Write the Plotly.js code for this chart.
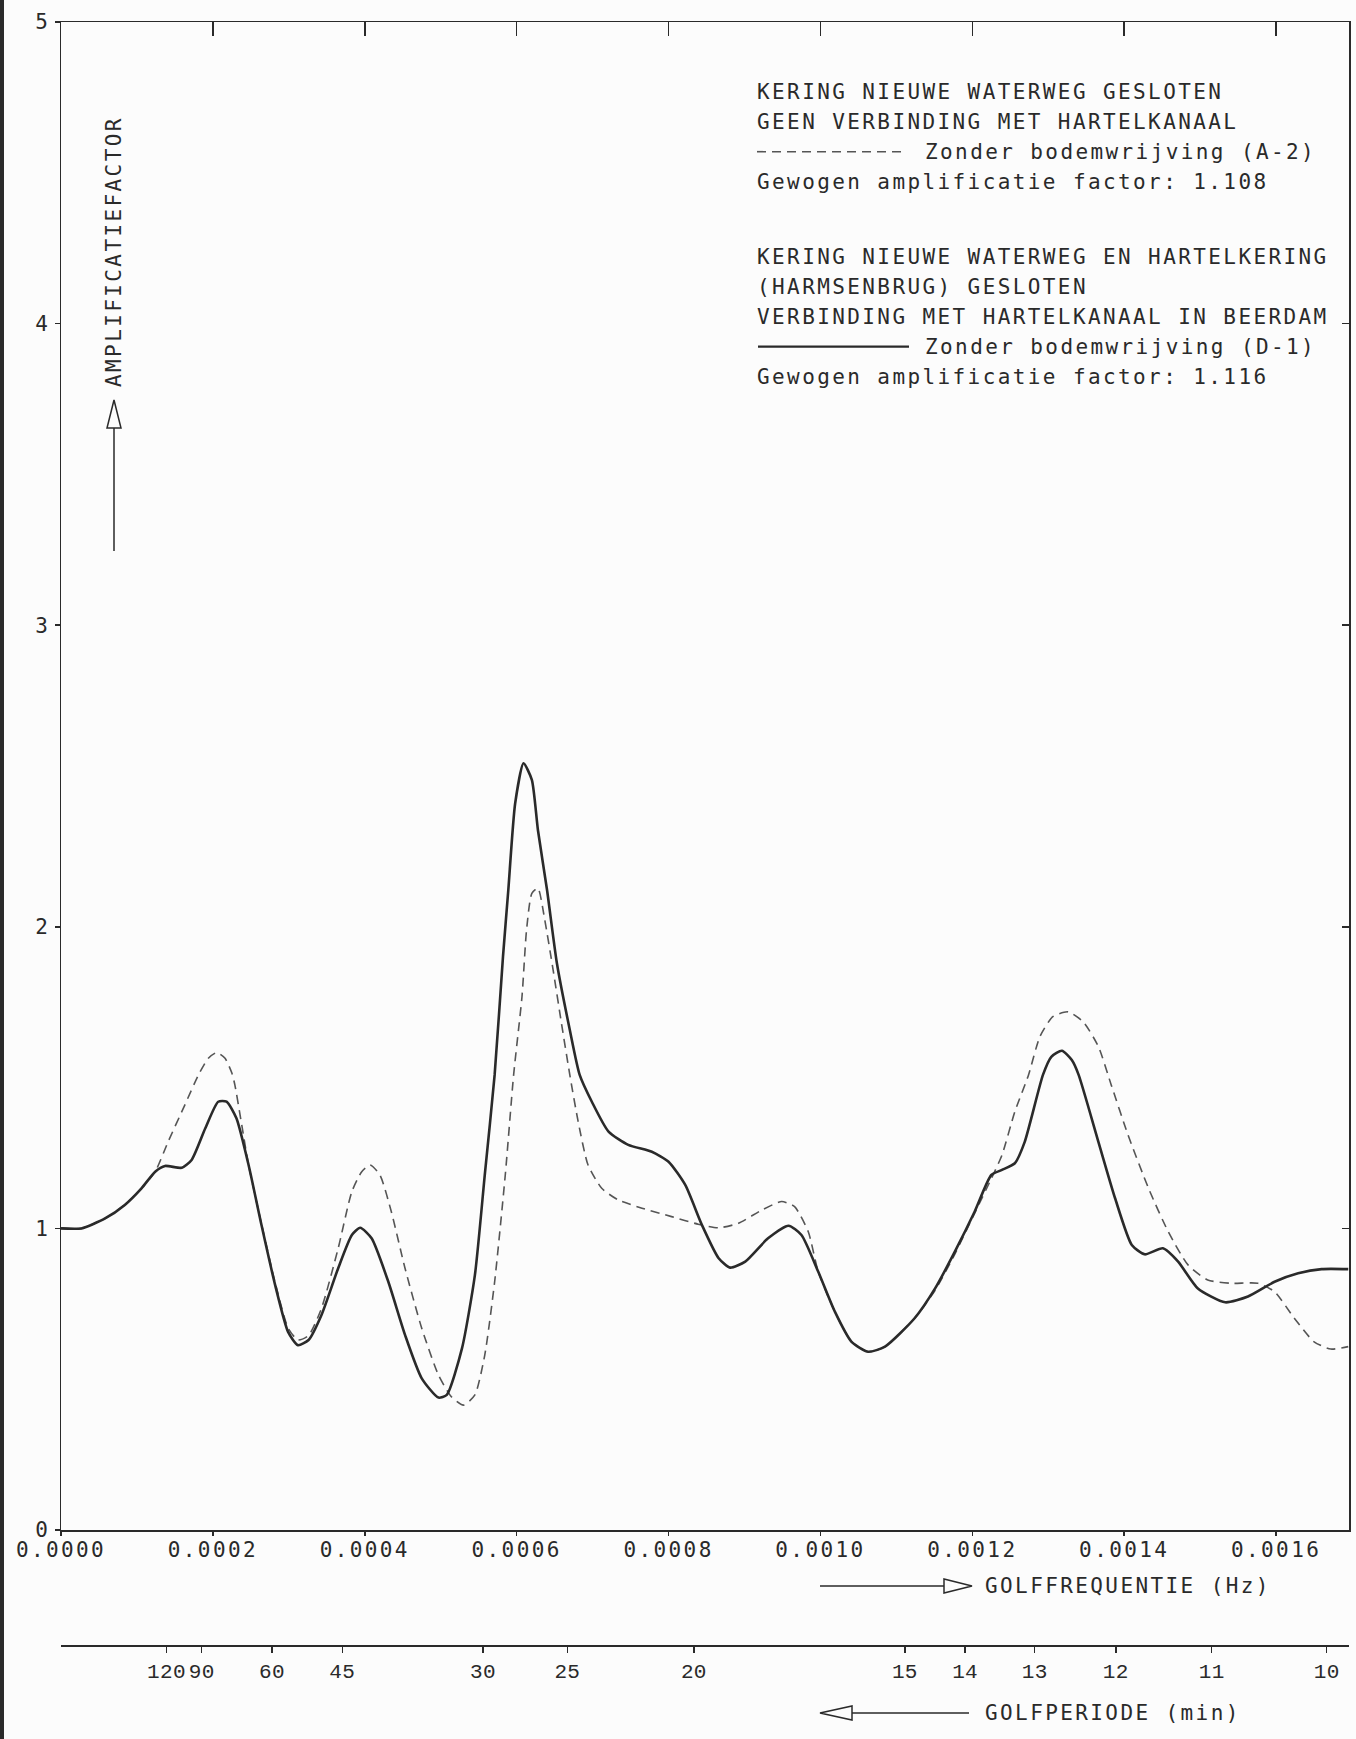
<!DOCTYPE html>
<html>
<head>
<meta charset="utf-8">
<script src="https://cdn.plot.ly/plotly-3.0.1.min.js"></script>
<style>
  html, body { margin: 0; padding: 0; background: #fcfcfc; }
  text { letter-spacing: 2.4px; }
  text[style*="Liberation"] { letter-spacing: 0.3px; }
</style>
</head>
<body>
<div id="chart" style="width:1356px;height:1739px;"></div>
<script>
// ---- DATA ----
// Curve D-1 (solid): Kering Nieuwe Waterweg en Hartelkering gesloten
const freqD1 = [0, 0.000027, 0.000058, 0.000084, 0.000106, 0.000124, 0.000137, 0.000159, 0.000172, 0.000190,
  0.000207, 0.000218, 0.000231, 0.000247, 0.000264, 0.000282, 0.000299, 0.000312, 0.000326, 0.000343,
  0.000365, 0.000383, 0.000394, 0.000409, 0.000431, 0.000453, 0.000475, 0.000497, 0.000508, 0.000528,
  0.000545, 0.000558, 0.000571, 0.000582, 0.000589, 0.000598, 0.000609, 0.000620, 0.000628, 0.000640,
  0.000653, 0.000670, 0.000683, 0.000699, 0.000721, 0.000747, 0.000778, 0.000800, 0.000822, 0.000844,
  0.000866, 0.000881, 0.000901, 0.000931, 0.000958, 0.000975, 0.000997, 0.001019, 0.001041, 0.001063,
  0.001085, 0.001124, 0.001151, 0.001177, 0.001203, 0.001225, 0.001239, 0.001256, 0.001269, 0.001293,
  0.001304, 0.001318, 0.001331, 0.001340, 0.001366, 0.001388, 0.001410, 0.001427, 0.001451, 0.001471,
  0.001497, 0.001533, 0.001563, 0.001598, 0.001629, 0.001660, 0.001695];
const ampD1 = [1.000, 1.000, 1.033, 1.078, 1.133, 1.188, 1.207, 1.201, 1.227, 1.332,
  1.420, 1.420, 1.365, 1.210, 1.011, 0.812, 0.657, 0.613, 0.630, 0.713,
  0.868, 0.978, 1.002, 0.967, 0.823, 0.647, 0.503, 0.439, 0.448, 0.602,
  0.845, 1.177, 1.509, 1.901, 2.122, 2.409, 2.542, 2.487, 2.321, 2.122,
  1.879, 1.658, 1.509, 1.420, 1.321, 1.277, 1.254, 1.221, 1.144, 1.011,
  0.901, 0.870, 0.890, 0.967, 1.009, 0.978, 0.857, 0.724, 0.624, 0.591,
  0.608, 0.702, 0.801, 0.923, 1.055, 1.177, 1.194, 1.216, 1.287, 1.509,
  1.569, 1.589, 1.558, 1.509, 1.287, 1.100, 0.945, 0.914, 0.934, 0.890,
  0.801, 0.755, 0.774, 0.823, 0.851, 0.865, 0.865];

// Curve A-2 (dashed): Kering Nieuwe Waterweg gesloten
const freqA2 = [0, 0.000027, 0.000058, 0.000084, 0.000106, 0.000124, 0.000141, 0.000163, 0.000181, 0.000194,
  0.000205, 0.000216, 0.000225, 0.000229, 0.000238, 0.000247, 0.000264, 0.000282, 0.000299, 0.000312,
  0.000326, 0.000343, 0.000365, 0.000383, 0.000396, 0.000407, 0.000420, 0.000435, 0.000453, 0.000475,
  0.000497, 0.000514, 0.000530, 0.000545, 0.000558, 0.000571, 0.000585, 0.000596, 0.000607, 0.000613,
  0.000620, 0.000628, 0.000637, 0.000648, 0.000659, 0.000670, 0.000681, 0.000694, 0.000712, 0.000734,
  0.000765, 0.000804, 0.000839, 0.000866, 0.000892, 0.000923, 0.000949, 0.000966, 0.000984, 0.000997,
  0.001019, 0.001041, 0.001063, 0.001085, 0.001124, 0.001151, 0.001177, 0.001203, 0.001225, 0.001239,
  0.001256, 0.001274, 0.001289, 0.001306, 0.001326, 0.001346, 0.001366, 0.001383, 0.001405, 0.001432,
  0.001458, 0.001484, 0.001510, 0.001541, 0.001576, 0.001598, 0.001624, 0.001650, 0.001672, 0.001695];
const ampA2 = [1.000, 1.000, 1.033, 1.078, 1.133, 1.188, 1.287, 1.409, 1.509, 1.564,
  1.583, 1.564, 1.515, 1.475, 1.343, 1.210, 1.015, 0.820, 0.670, 0.630,
  0.645, 0.735, 0.934, 1.122, 1.188, 1.210, 1.177, 1.055, 0.868, 0.669,
  0.514, 0.442, 0.414, 0.448, 0.580, 0.823, 1.177, 1.509, 1.768, 1.989,
  2.111, 2.128, 2.023, 1.857, 1.680, 1.509, 1.354, 1.210, 1.133, 1.094,
  1.067, 1.039, 1.014, 1.002, 1.017, 1.061, 1.089, 1.072, 0.989, 0.857,
  0.724, 0.624, 0.591, 0.608, 0.702, 0.795, 0.915, 1.050, 1.165, 1.243,
  1.387, 1.509, 1.636, 1.702, 1.718, 1.685, 1.603, 1.475, 1.310, 1.133,
  0.989, 0.879, 0.829, 0.818, 0.818, 0.790, 0.702, 0.624, 0.600, 0.608];

// Tick labels
const freqTicks = [0, 0.0002, 0.0004, 0.0006, 0.0008, 0.0010, 0.0012, 0.0014, 0.0016];
const freqTickLabels = ['0.0000', '0.0002', '0.0004', '0.0006', '0.0008', '0.0010', '0.0012', '0.0014', '0.0016'];
const periodMinutes = [120, 90, 60, 45, 30, 25, 20, 15, 14, 13, 12, 11, 10];
const periodTickLabels = periodMinutes.map(String);
const ampTicks = [0, 1, 2, 3, 4, 5];
const ampTickLabels = ['0', '1', '2', '3', '4', '5'];

const legendLines = [
  'KERING NIEUWE WATERWEG GESLOTEN',
  'GEEN VERBINDING MET HARTELKANAAL',
  'Zonder bodemwrijving (A-2)',
  'Gewogen amplificatie factor: 1.108',
  'KERING NIEUWE WATERWEG EN HARTELKERING',
  '(HARMSENBRUG) GESLOTEN',
  'VERBINDING MET HARTELKANAAL IN BEERDAM',
  'Zonder bodemwrijving (D-1)',
  'Gewogen amplificatie factor: 1.116'
];
const yTitle = 'AMPLIFICATIEFACTOR';
const xTitle = 'GOLFFREQUENTIE (Hz)';
const x2Title = 'GOLFPERIODE (min)';

// ---- LAYOUT HELPERS (page pixel -> paper fraction) ----
const W = 1356, H = 1739;
const mL = 61, mR = 7, mT = 22, mB = 60;
const plotW = W - mL - mR, plotH = H - mT - mB;
const xp = X => (X - mL) / plotW;
const yp = Y => (H - mB - Y) / plotH;

const FONT = 'DejaVu Sans Mono, monospace';
const FONT2 = 'Liberation Mono, monospace';
const FS = 21;
const INK = '#2a2a2a';
const xRange = [0, 0.001696];
const periodTickPos = periodMinutes.map(T => 1 / (60 * T));

const traces = [
  { x: freqA2, y: ampA2, type: 'scatter', mode: 'lines', name: 'Zonder bodemwrijving (A-2)',
    line: { color: '#555', width: 1.6, dash: '9px,6px', shape: 'spline', smoothing: 0.6 },
    xaxis: 'x', yaxis: 'y', hoverinfo: 'x+y' },
  { x: freqD1, y: ampD1, type: 'scatter', mode: 'lines', name: 'Zonder bodemwrijving (D-1)',
    line: { color: '#2a2a2a', width: 2.6, shape: 'spline', smoothing: 0.6 },
    xaxis: 'x', yaxis: 'y', hoverinfo: 'x+y' },
  // empty helper traces so that the extra axes are drawn
  { x: [], y: [], type: 'scatter', mode: 'lines', xaxis: 'x2', yaxis: 'y', showlegend: false, hoverinfo: 'skip' },
  { x: [], y: [], type: 'scatter', mode: 'lines', xaxis: 'x3', yaxis: 'y', showlegend: false, hoverinfo: 'skip' },
  { x: [], y: [], type: 'scatter', mode: 'lines', xaxis: 'x', yaxis: 'y2', showlegend: false, hoverinfo: 'skip' }
];

const yDomBottom = yp(1530);

const annotations = [];
const legendY = [91.7, 121.7, 151.7, 181.7, 256.7, 286.7, 316.7, 346.7, 376.7];
const legendX = [756, 756, 924, 756, 756, 756, 756, 924, 756];
legendLines.forEach((t, i) => {
  annotations.push({ text: t, xref: 'paper', yref: 'paper', x: xp(legendX[i]), y: yp(legendY[i]),
    xanchor: 'left', yanchor: 'middle', showarrow: false, borderpad: 0,
    font: { family: FONT, size: FS, color: INK } });
});
annotations.push({ text: yTitle, xref: 'paper', yref: 'paper', x: xp(114), y: yp(252),
  xanchor: 'center', yanchor: 'middle', textangle: -90, showarrow: false, borderpad: 0,
  font: { family: FONT, size: FS, color: INK } });
annotations.push({ text: xTitle, xref: 'paper', yref: 'paper', x: xp(984), y: yp(1586),
  xanchor: 'left', yanchor: 'middle', showarrow: false, borderpad: 0,
  font: { family: FONT, size: FS, color: INK } });
annotations.push({ text: x2Title, xref: 'paper', yref: 'paper', x: xp(984), y: yp(1713),
  xanchor: 'left', yanchor: 'middle', showarrow: false, borderpad: 0,
  font: { family: FONT, size: FS, color: INK } });

const lineStyle = { color: INK, width: 1.5 };
const P = (X, Y) => xp(X) + ',' + yp(Y);
const shapes = [
  // scanned page edge on the left
  { type: 'rect', xref: 'paper', yref: 'paper', x0: xp(0), x1: xp(4), y0: yp(0), y1: yp(H),
    fillcolor: '#2a2a2a', line: { width: 0 }, layer: 'above' },
  // y title arrow
  { type: 'line', xref: 'paper', yref: 'paper', x0: xp(114), x1: xp(114), y0: yp(551), y1: yp(428), line: lineStyle },
  { type: 'path', xref: 'paper', yref: 'paper', path: 'M' + P(107, 428) + ' L' + P(121, 428) + ' L' + P(114, 400) + ' Z', line: lineStyle },
  // frequency arrow
  { type: 'line', xref: 'paper', yref: 'paper', x0: xp(820), x1: xp(944), y0: yp(1586), y1: yp(1586), line: lineStyle },
  { type: 'path', xref: 'paper', yref: 'paper', path: 'M' + P(944, 1579) + ' L' + P(944, 1593) + ' L' + P(972, 1586) + ' Z', line: lineStyle },
  // period arrow
  { type: 'line', xref: 'paper', yref: 'paper', x0: xp(852), x1: xp(969), y0: yp(1713), y1: yp(1713), line: lineStyle },
  { type: 'path', xref: 'paper', yref: 'paper', path: 'M' + P(852, 1706) + ' L' + P(852, 1720) + ' L' + P(820, 1713) + ' Z', line: lineStyle },
  // legend line samples
  { type: 'line', xref: 'paper', yref: 'paper', x0: xp(757), x1: xp(906), y0: yp(151.7), y1: yp(151.7),
    line: { color: '#555', width: 1.6, dash: '9px,6px' } },
  { type: 'line', xref: 'paper', yref: 'paper', x0: xp(758), x1: xp(909), y0: yp(346.7), y1: yp(346.7),
    line: { color: '#2a2a2a', width: 2.2 } }
];

const layout = {
  width: W, height: H,
  margin: { l: mL, r: mR, t: mT, b: mB, pad: 0 },
  paper_bgcolor: '#fcfcfc', plot_bgcolor: '#fcfcfc',
  showlegend: false,
  font: { family: FONT, color: INK, size: FS },
  xaxis: {
    range: xRange, anchor: 'y', side: 'bottom',
    tickmode: 'array', tickvals: freqTicks, ticktext: freqTickLabels, tickangle: 0,
    ticks: 'outside', ticklen: 4, tickwidth: 1.5, tickcolor: INK, ticklabelstandoff: -4,
    showline: true, linecolor: INK, linewidth: 1.5,
    showgrid: false, zeroline: false,
    tickfont: { family: FONT, size: FS, color: INK }
  },
  xaxis2: {
    range: xRange, overlaying: 'x', anchor: 'free', position: yp(1645), side: 'bottom',
    tickmode: 'array', tickvals: periodTickPos, ticktext: periodTickLabels, tickangle: 0,
    ticks: 'outside', ticklen: 6, tickwidth: 1.5, tickcolor: INK, ticklabelstandoff: 0,
    showline: true, linecolor: INK, linewidth: 1.5,
    showgrid: false, zeroline: false,
    tickfont: { family: FONT2, size: 21, color: INK }
  },
  xaxis3: {
    range: xRange, overlaying: 'x', anchor: 'y', side: 'top',
    tickmode: 'array', tickvals: freqTicks.slice(1),
    ticks: 'inside', ticklen: 14, tickwidth: 1.5, tickcolor: INK, showticklabels: false,
    showline: true, linecolor: INK, linewidth: 1.5,
    showgrid: false, zeroline: false
  },
  yaxis: {
    range: [0, 5], domain: [yDomBottom, 1], anchor: 'x',
    tickmode: 'array', tickvals: ampTicks, ticktext: ampTickLabels,
    ticks: 'outside', ticklen: 5, tickwidth: 1.5, tickcolor: INK, ticklabelstandoff: 0,
    showline: true, linecolor: INK, linewidth: 1.5,
    showgrid: false, zeroline: false,
    tickfont: { family: FONT, size: FS, color: INK }
  },
  yaxis2: {
    range: [0, 5], overlaying: 'y', anchor: 'x', side: 'right',
    tickmode: 'array', tickvals: ampTicks.slice(1, 5),
    ticks: 'inside', ticklen: 7, tickwidth: 1.5, tickcolor: INK, showticklabels: false,
    showline: true, linecolor: INK, linewidth: 1.5,
    showgrid: false, zeroline: false
  },
  annotations: annotations,
  shapes: shapes
};

Plotly.newPlot('chart', traces, layout, { displayModeBar: false, staticPlot: true });
</script>
</body>
</html>
